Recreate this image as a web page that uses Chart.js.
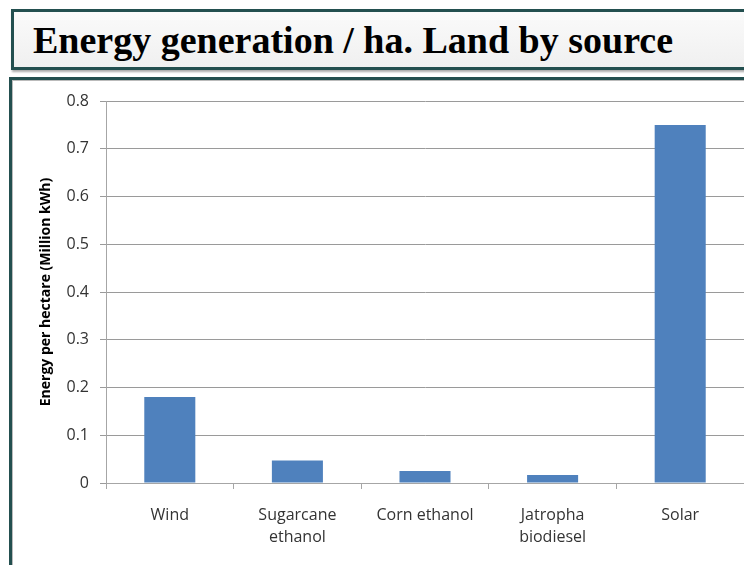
<!DOCTYPE html>
<html><head><meta charset="utf-8">
<script src="https://cdn.jsdelivr.net/npm/chart.js@4"></script>
<style>
html,body{margin:0;padding:0;width:744px;height:565px;overflow:hidden;background:#fff;}
#title{position:absolute;left:11px;top:9px;width:800px;height:55px;border:3px solid #234f4f;background:linear-gradient(#fafafa,#f0f0f0);box-shadow:1px 2px 2px #aaa;}
#title span{position:absolute;left:19px;top:9px;font:bold 38px "Liberation Serif";line-height:38px;color:#000;white-space:nowrap;}
#box{position:absolute;left:9px;top:77px;width:800px;height:600px;border:3px solid #234f4f;background:#fff;box-shadow:inset 1px 1px 0 #bbb;}
canvas{position:absolute;left:0;top:0;}
</style></head>
<body>
<div id="title"><span>Energy generation / ha. Land by source</span></div>
<div id="box"></div>
<canvas id="c" width="744" height="565"></canvas>
<script>
const categories = ['Wind', ['Sugarcane', 'ethanol'], 'Corn ethanol', ['Jatropha', 'biodiesel'], 'Solar'];
const energyValues = [0.18, 0.047, 0.025, 0.017, 0.75];
const yTickLabels = ['0', '0.1', '0.2', '0.3', '0.4', '0.5', '0.6', '0.7', '0.8'];
const yAxisTitle = 'Energy per hectare (Million kWh)';

new Chart(document.getElementById('c'), {
  type: 'bar',
  data: {
    labels: categories,
    datasets: [{
      data: energyValues,
      backgroundColor: '#4f81bd',
      borderWidth: 0,
      barPercentage: 0.4,
      categoryPercentage: 1
    }]
  },
  options: {
    responsive: false,
    animation: false,
    events: [],
    plugins: { legend: { display: false }, tooltip: { enabled: false } },
    layout: { padding: { left: 0, top: 101, right: 0, bottom: 0 } },
    scales: {
      x: {
        grid: { display: true, drawOnChartArea: false, drawTicks: true, tickLength: 6, color: '#a6a6a6', offset: true },
        border: { color: '#a6a6a6' },
        ticks: { color: '#333333', font: { family: 'Open Sans', size: 16, lineHeight: 1.4 }, padding: 15, maxRotation: 0, autoSkip: false },
        afterFit: s => { s.height = 82; }
      },
      y: {
        min: 0, max: 0.8,
        grid: { color: '#9a9a9a', tickLength: 6 },
        border: { color: '#a6a6a6' },
        ticks: { stepSize: 0.1, color: '#333333', font: { family: 'Open Sans', size: 16 }, padding: 11,
                 callback: (v, i) => yTickLabels[i] },
        title: { display: true, text: yAxisTitle, color: '#000', font: { family: 'Open Sans', size: 14, weight: 'bold', lineHeight: 1.2 }, padding: { top: 38, bottom: 0 } },
        afterFit: s => { s.width = 106; }
      }
    }
  }
});
</script>
</body></html>
